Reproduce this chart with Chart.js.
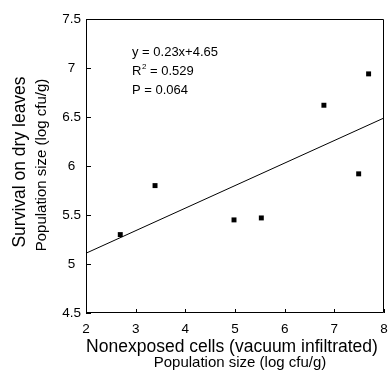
<!DOCTYPE html>
<html>
<head>
<meta charset="utf-8">
<script src="https://cdn.jsdelivr.net/npm/chart.js@4.4.1/dist/chart.umd.min.js"></script>
<style>
html,body{margin:0;padding:0;background:#fff;}
#wrap{width:388px;height:371px;position:relative;}
</style>
</head>
<body>
<div id="wrap"><canvas id="c"></canvas></div>
<script>
// Data
const xValues = [2.69, 3.39, 4.98, 5.53, 6.79, 7.49, 7.69];
const yValues = [5.30, 5.80, 5.45, 5.47, 6.62, 5.92, 6.94];
const fitX = [2, 8];
const fitY = [5.11, 6.49];
const xTicks = [2, 3, 4, 5, 6, 7, 8];
const yTicks = [4.5, 5, 5.5, 6, 6.5, 7, 7.5];
const xTitle = 'Nonexposed cells (vacuum infiltrated)';
const xSubtitle = 'Population size (log cfu/g)';
const yTitle = 'Survival on dry leaves';
const ySubtitle = 'Population size (log cfu/g)';
const statLines = ['y = 0.23x+4.65', 'R', ' = 0.529', 'P = 0.064'];

const FONT = '"Liberation Sans", Arial, Helvetica, sans-serif';

const decor = {
  id: 'decor',
  afterDraw(chart) {
    const {ctx, chartArea: {left, right, top, bottom}, scales: {x, y}} = chart;
    ctx.save();
    ctx.strokeStyle = '#000';
    ctx.lineWidth = 1;
    // frame
    ctx.beginPath();
    ctx.rect(left + 0.5, top + 0.5, right - left - 1, bottom - top - 1);
    ctx.stroke();
    // inside ticks
    ctx.beginPath();
    yTicks.forEach(v => {
      const py = Math.round(y.getPixelForValue(v)) + 0.5;
      ctx.moveTo(left, py); ctx.lineTo(left + 5, py);
    });
    xTicks.forEach(v => {
      const px = Math.round(x.getPixelForValue(v)) + 0.5;
      ctx.moveTo(px, bottom); ctx.lineTo(px, bottom - 4);
    });
    ctx.stroke();

    ctx.fillStyle = '#000';
    // x titles
    ctx.textAlign = 'center';
    ctx.textBaseline = 'alphabetic';
    ctx.font = '17.5px ' + FONT;
    ctx.fillText(xTitle, 232, 352);
    ctx.font = '15px ' + FONT;
    ctx.fillText(xSubtitle, 240, 367);
    // y titles
    ctx.save();
    ctx.translate(25, 162);
    ctx.rotate(-Math.PI / 2);
    ctx.font = '17.5px ' + FONT;
    ctx.fillText(yTitle, 0, 0);
    ctx.restore();
    ctx.save();
    ctx.translate(46, 165);
    ctx.rotate(-Math.PI / 2);
    ctx.font = '15px ' + FONT;
    ctx.fillText(ySubtitle, 0, 0);
    ctx.restore();

    // statistics annotation
    ctx.textAlign = 'left';
    ctx.font = '13px ' + FONT;
    const ax = 132;
    ctx.fillText(statLines[0], ax, 56);
    ctx.fillText(statLines[1], ax, 75);
    const rw = ctx.measureText(statLines[1]).width;
    ctx.font = '8px ' + FONT;
    ctx.fillText('2', ax + rw + 0.5, 69);
    const sw = ctx.measureText('2').width;
    ctx.font = '13px ' + FONT;
    ctx.fillText(statLines[2], ax + rw + sw + 0.5, 75);
    ctx.fillText(statLines[3], ax, 94);
    ctx.restore();
  }
};

new Chart(document.getElementById('c'), {
  type: 'scatter',
  data: {
    datasets: [
      {
        type: 'line',
        data: fitX.map((v, i) => ({x: v, y: fitY[i]})),
        borderColor: '#000',
        borderWidth: 1,
        pointRadius: 0,
        fill: false,
        tension: 0
      },
      {
        data: xValues.map((v, i) => ({x: v, y: yValues[i]})),
        pointStyle: 'rect',
        pointRadius: 3.5,
        pointBorderWidth: 0,
        backgroundColor: '#000',
        borderColor: '#000'
      }
    ]
  },
  options: {
    responsive: true,
    maintainAspectRatio: false,
    animation: false,
    events: [],
    layout: {padding: {left: 0, top: 19, right: 2, bottom: 0}},
    plugins: {legend: {display: false}, tooltip: {enabled: false}},
    scales: {
      x: {
        type: 'linear',
        min: 2, max: 8,
        afterBuildTicks(s) { s.ticks = xTicks.map(v => ({value: v})); },
        afterFit(s) { s.height = 58; s.paddingLeft = 0; s.paddingRight = 0; },
        grid: {display: false, drawTicks: false},
        border: {display: false},
        ticks: {
          padding: 8,
          color: '#000',
          font: {family: FONT, size: 13.5},
          maxRotation: 0,
          autoSkip: false,
          callback: v => String(v)
        }
      },
      y: {
        type: 'linear',
        min: 4.5, max: 7.5,
        afterBuildTicks(s) { s.ticks = yTicks.map(v => ({value: v})); },
        afterFit(s) { s.width = 86; s.paddingTop = 0; s.paddingBottom = 0; },
        grid: {display: false, drawTicks: false},
        border: {display: false},
        ticks: {
          padding: 5,
          crossAlign: 'center',
          color: '#000',
          font: {family: FONT, size: 13.5},
          autoSkip: false,
          callback: v => String(v)
        }
      }
    }
  },
  plugins: [decor]
});
</script>
</body>
</html>
